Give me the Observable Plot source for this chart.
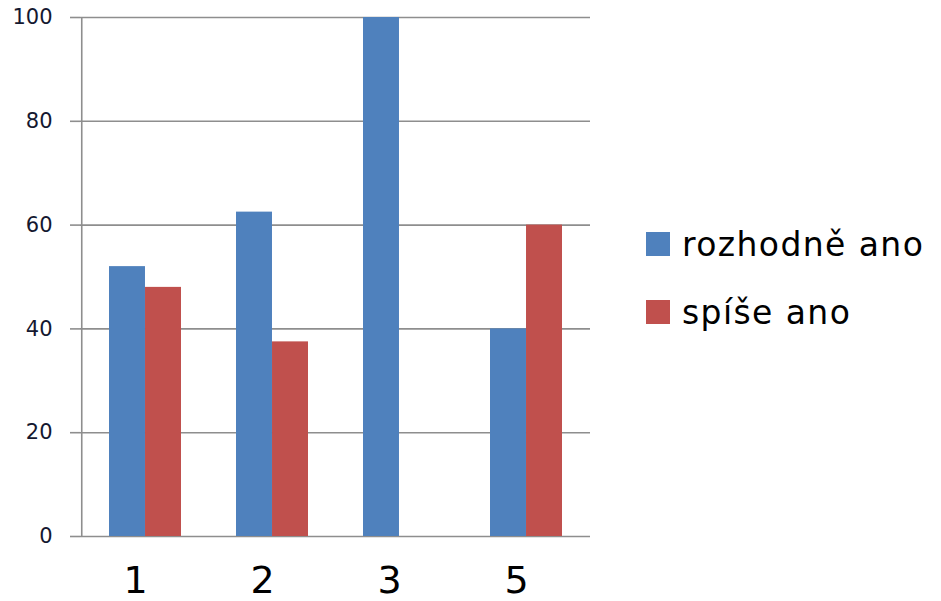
<!DOCTYPE html>
<html>
<head>
<meta charset="utf-8">
<script src="https://cdn.jsdelivr.net/npm/d3@7"></script>
<script src="https://cdn.jsdelivr.net/npm/@observablehq/plot@0.6"></script>
<style>
  body { margin: 0; background: #fff; }
  #wrap { position: relative; width: 941px; height: 601px; overflow: hidden; }
  .legend { position: absolute; left: 646px; top: 232px; font-family: "DejaVu Sans", sans-serif; font-size: 33px; letter-spacing: 1.4px; color: #000; }
  .legend .item { display: flex; align-items: center; height: 24px; margin-bottom: 44px; white-space: nowrap; }
  .legend .swatch { width: 24px; height: 24px; margin-right: 12px; flex: none; }
</style>
</head>
<body>
<div id="wrap"></div>
<script>
// Survey answers per question (percent of respondents)
const categories = ["1", "2", "3", "5"];
const seriesNames = ["rozhodně ano", "spíše ano"];
const rozhodneAno = [52, 62.5, 100, 40];
const spiseAno = [48, 37.5, 0, 60];
const yTicks = [0, 20, 40, 60, 80, 100];
const seriesColors = ["#4F81BD", "#C0504D"];

const width = 941, height = 601;
const marginLeft = 80, marginRight = 351, marginTop = 17, marginBottom = 65;
const padInner = 0.435;
const step = (width - marginLeft - marginRight) / categories.length;
const halfBar = step * (1 - padInner) / 2;

const rows = categories.flatMap((c, i) => [
  {cat: c, series: seriesNames[0], value: rozhodneAno[i]},
  {cat: c, series: seriesNames[1], value: spiseAno[i]}
]);

const gridColor = "#8e8e8e";

const chart = Plot.plot({
  width, height, marginLeft, marginRight, marginTop, marginBottom,
  style: {fontFamily: "DejaVu Sans, sans-serif", background: "#fff"},
  x: {type: "band", domain: categories, paddingInner: padInner, paddingOuter: padInner / 2, label: null},
  y: {domain: [0, 100], ticks: yTicks, label: null},
  color: {domain: seriesNames, range: seriesColors},
  marks: [
    Plot.gridY(yTicks, {stroke: gridColor, strokeOpacity: 1, strokeWidth: 1.6}),
    Plot.ruleX([categories[0]], {dx: -step / 2, y1: 0, y2: 100, stroke: gridColor, strokeWidth: 1.6}),
    Plot.barY(rows.filter(d => d.series === seriesNames[0]), {x: "cat", y: "value", fill: "series", insetRight: halfBar}),
    Plot.barY(rows.filter(d => d.series === seriesNames[1]), {x: "cat", y: "value", fill: "series", insetLeft: halfBar}),
    Plot.axisY(yTicks, {anchor: "left", tickSize: 10, tickPadding: 18, stroke: gridColor, strokeWidth: 1.6, fontSize: 21, fill: "#141830", label: null}),
    Plot.axisX({anchor: "bottom", tickSize: 0, tickPadding: 30, fontSize: 38, fill: "#000", dx: -10, label: null})
  ]
});

const wrap = document.getElementById("wrap");
wrap.appendChild(chart);

// Series legend to the right of the plot
const legend = document.createElement("div");
legend.className = "legend";
seriesNames.forEach((name, i) => {
  const item = document.createElement("div");
  item.className = "item";
  const sw = document.createElement("span");
  sw.className = "swatch";
  sw.style.background = seriesColors[i];
  const label = document.createElement("span");
  label.textContent = name;
  item.appendChild(sw);
  item.appendChild(label);
  legend.appendChild(item);
});
wrap.appendChild(legend);
</script>
</body>
</html>
